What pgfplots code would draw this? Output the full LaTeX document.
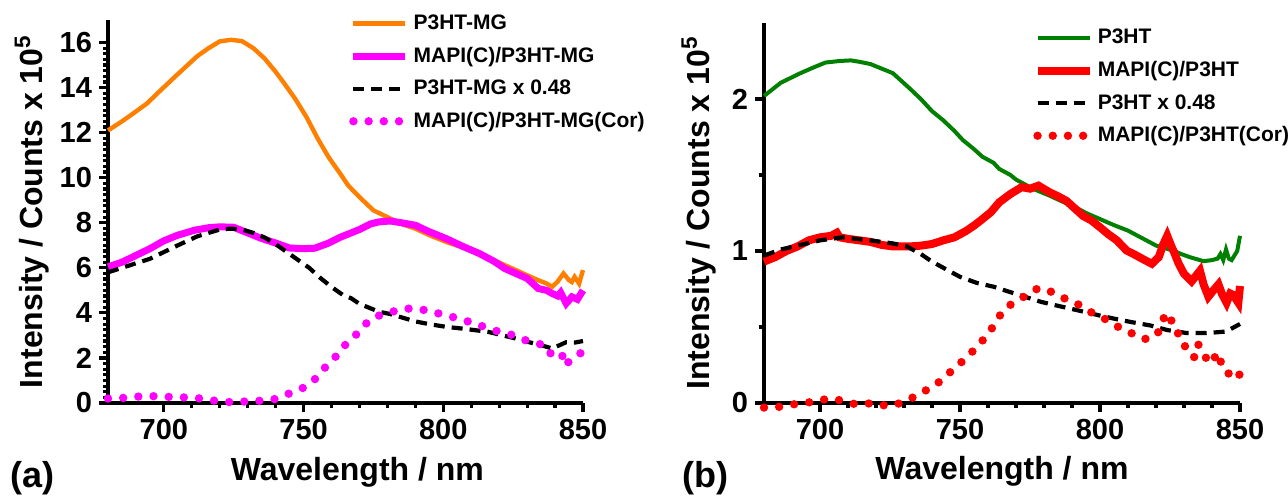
\documentclass[border=0pt]{standalone}
\usepackage{pgfplots}
\pgfplotsset{compat=1.18}
\usepackage{fontspec}
\setmainfont{Liberation Sans}
\definecolor{myorange}{RGB}{255,128,0}
\definecolor{mymag}{RGB}{255,0,255}
\definecolor{mygreen}{RGB}{0,128,0}
\definecolor{myred}{RGB}{255,0,0}
\pgfplotsset{
  panel/.style={
    scale only axis,
    axis lines=left,
    axis line style={-, line width=2pt},
    tick align=outside,
    tick style={line width=1.6pt, black},
    major tick length=4.5pt,
    minor tick length=2.5pt,
    xmin=680, xmax=850,
    xtick={700,750,800,850},
    minor x tick num=4,
    /pgf/number format/assume math mode=true,
    ticklabel style={font=\fontsize{14.5}{17}\selectfont\bfseries},
    label style={font=\fontsize{16}{19}\selectfont\bfseries},
    clip=false,
    legend cell align=left,
    legend style={draw=none, fill=none, font=\fontsize{10.5}{12}\selectfont\bfseries, row sep=3.3pt, inner sep=0pt},
    legend image code/.code={\draw[##1] (0pt,0pt) -- (26pt,0pt);},
  },
  dotsty/.style={line width=4.2pt, line cap=round, dash pattern=on 0pt off 7.6pt},
  dashsty/.style={line width=2.1pt, black, dash pattern=on 5.5pt off 3.5pt},
}
\begin{document}
\begin{tikzpicture}
\useasboundingbox (0,0) rectangle (644pt,249pt);
\begin{axis}[panel,
  at={(54pt,47.5pt)}, anchor=south west,
  width=237.5pt, height=191.5pt,
  ymin=0, ymax=17,
  ytick={0,2,...,16}, minor y tick num=7,
  xlabel={Wavelength / nm}, ylabel={Intensity / Counts x 10\textsuperscript{5}},
  xlabel style={at={(axis description cs:0.525,-0.18)}, anchor=center},
  ylabel style={at={(axis description cs:-0.16,0.5)}, anchor=center},
  legend style={at={(axis description cs:0.507,1.025)}, anchor=north west},
]
\addplot[myorange, line width=2.2pt] coordinates {(680,12.1)(685,12.5)(689,12.85)(694,13.3)(699,13.9)(705,14.6)(712,15.4)(716,15.75)(720,16.05)(724,16.12)(728,16.06)(732,15.75)(736,15.3)(740,14.7)(743,14.2)(747,13.5)(751,12.7)(755,11.75)(759,10.9)(763,10.2)(766,9.65)(770,9.14)(775,8.55)(781,8.19)(785,7.95)(790,7.74)(795,7.45)(801,7.15)(807,6.9)(813,6.63)(818,6.35)(822,6.12)(826,5.9)(830,5.67)(834,5.45)(837,5.3)(839,5.16)(841,5.4)(843,5.75)(845,5.45)(846,5.37)(847,5.6)(848.6,5.3)(850,5.9)};
\addlegendentry{P3HT-MG}
\addplot[mymag, line width=3.5pt] coordinates {(680,6.04)(685,6.25)(689,6.49)(695,6.85)(700,7.2)(705,7.45)(711,7.67)(716,7.78)(720,7.82)(725,7.8)(729,7.6)(735,7.3)(740,7.1)(745,6.88)(750,6.85)(754,6.87)(759,7.1)(763,7.35)(767,7.55)(770,7.7)(774,7.95)(777,8.04)(781,8.08)(785,8.0)(790,7.89)(795,7.6)(801,7.3)(807,6.95)(813,6.63)(818,6.3)(822,5.97)(826,5.75)(830,5.53)(834,5.08)(837,5.0)(839,4.86)(841,4.75)(842,4.9)(844,4.42)(846,4.71)(848,4.6)(850,5.0)};
\addlegendentry{MAPI(C)/P3HT-MG}
\addplot[dashsty] coordinates {(680,5.8)(685,6.0)(690,6.2)(695,6.4)(700,6.7)(705,7.0)(712,7.4)(716,7.55)(720,7.7)(724,7.74)(728,7.7)(732,7.55)(736,7.35)(740,7.05)(744,6.7)(748,6.35)(752,6.0)(756,5.55)(760,5.15)(764,4.8)(767,4.65)(770,4.4)(777,4.05)(781,3.95)(790,3.62)(795,3.5)(801,3.38)(807,3.3)(816,3.16)(822,2.98)(826,2.86)(830,2.72)(834,2.6)(839,2.42)(844,2.7)(847,2.68)(850,2.75)};
\addlegendentry{P3HT-MG x 0.48}
\addplot[mymag, dotsty] coordinates {(680,0.2)(684,0.21)(690,0.28)(695,0.31)(700,0.28)(706,0.25)(711,0.24)(716,0.13)(722,0.06)(726,0.01)(730,0.09)(735,0.1)(740,0.18)(745,0.43)(750,0.68)(754,1.05)(757,1.49)(761,1.98)(764,2.48)(768,2.91)(771,3.38)(775,3.8)(780,4.0)(785,4.15)(789,4.21)(795,4.09)(799,3.95)(803,3.83)(808,3.65)(812,3.5)(816,3.31)(820,3.16)(825,3.01)(828,2.85)(832,2.67)(836,2.58)(838,2.2)(842,2.29)(844,1.64)(845,1.87)(847,2.02)(849,2.2)(850,2.3)};
\addlegendentry{MAPI(C)/P3HT-MG(Cor)}
\end{axis}
\node[anchor=west, font=\fontsize{18}{21}\selectfont\bfseries, inner sep=0pt] at (5pt,10pt) {(a)};
\begin{axis}[panel,
  at={(382pt,47.5pt)}, anchor=south west,
  width=238pt, height=190pt,
  ymin=0, ymax=2.5,
  ytick={0,1,2}, minor y tick num=1,
  xlabel={Wavelength / nm}, ylabel={Intensity / Counts x 10\textsuperscript{5}},
  xlabel style={at={(axis description cs:0.5,-0.18)}, anchor=center},
  ylabel style={at={(axis description cs:-0.137,0.5)}, anchor=center},
  legend style={at={(axis description cs:0.565,0.995)}, anchor=north west},
]
\addplot[mygreen, line width=2pt] coordinates {(680,2.02)(686,2.107)(693,2.17)(698,2.21)(702,2.24)(707,2.25)(711,2.254)(714,2.245)(718,2.23)(722,2.2)(726,2.17)(729,2.12)(732,2.07)(736,2.0)(740,1.92)(744,1.86)(748,1.79)(751,1.73)(755,1.67)(758,1.62)(762,1.58)(764,1.54)(768,1.5)(770,1.47)(776,1.41)(782,1.364)(786,1.33)(791,1.29)(795,1.25)(800,1.21)(805,1.17)(810,1.134)(815,1.085)(820,1.036)(826,1.003)(829,0.98)(832,0.96)(837,0.933)(840,0.94)(842,0.95)(843,0.98)(844,0.94)(845,1.01)(846,0.95)(847,0.94)(849,1.0)(850,1.1)};
\addlegendentry{P3HT}
\addplot[myred, line width=4pt] coordinates {(680,0.93)(684,0.96)(688,1.0)(692,1.03)(696,1.07)(700,1.09)(704,1.1)(706,1.12)(707,1.09)(710,1.08)(714,1.07)(718,1.06)(722,1.04)(726,1.03)(732,1.03)(736,1.035)(740,1.046)(744,1.07)(748,1.09)(752,1.13)(755,1.167)(758,1.21)(761,1.255)(764,1.32)(768,1.375)(772,1.42)(775,1.41)(778,1.43)(782,1.386)(785,1.36)(788,1.33)(791,1.28)(794,1.23)(797,1.2)(800,1.156)(803,1.11)(806,1.07)(809.5,1.003)(812,0.98)(814,0.96)(816,0.94)(818.5,0.916)(821,0.96)(822.5,1.04)(824,1.10)(825.5,1.03)(826.5,0.99)(828,0.92)(830,0.85)(832.7,0.80)(835.7,0.87)(837,0.78)(838.7,0.70)(840,0.73)(842.3,0.78)(843.5,0.72)(845.2,0.66)(846.5,0.72)(847.6,0.71)(849.4,0.66)(850,0.77)};
\addlegendentry{MAPI(C)/P3HT}
\addplot[dashsty] coordinates {(680,0.97)(686,1.01)(693,1.04)(700,1.07)(708,1.09)(718,1.07)(726,1.05)(731,1.03)(736,0.98)(740,0.93)(745,0.88)(750,0.83)(756,0.79)(762,0.765)(767,0.735)(773,0.7)(779,0.665)(786,0.635)(792,0.61)(800,0.575)(805,0.555)(811,0.533)(818,0.51)(824,0.48)(831,0.46)(838,0.46)(845,0.47)(850,0.52)};
\addlegendentry{P3HT x 0.48}
\addplot[myred, dotsty] coordinates {(680,-0.03)(684,-0.03)(690,-0.01)(695,0.0)(700,0.02)(705,0.03)(710,0.0)(714,-0.01)(719,0.0)(724,-0.02)(729,0.0)(733,0.035)(738,0.085)(742,0.13)(746,0.195)(750,0.26)(754,0.33)(758,0.41)(761,0.48)(764,0.57)(767,0.636)(771,0.675)(774,0.715)(778,0.756)(782,0.737)(786,0.697)(791,0.664)(795,0.614)(799,0.577)(804,0.533)(807,0.494)(810.5,0.466)(815.5,0.42)(819,0.43)(821,0.47)(823,0.57)(825,0.588)(826,0.49)(829.5,0.43)(830.7,0.35)(833.6,0.30)(834.8,0.39)(836.4,0.36)(838.7,0.26)(842.6,0.33)(843.5,0.23)(846.2,0.19)(848.6,0.22)(850,0.18)};
\addlegendentry{MAPI(C)/P3HT(Cor)}
\end{axis}
\node[anchor=west, font=\fontsize{18}{21}\selectfont\bfseries, inner sep=0pt] at (341pt,10pt) {(b)};
\end{tikzpicture}
\end{document}
